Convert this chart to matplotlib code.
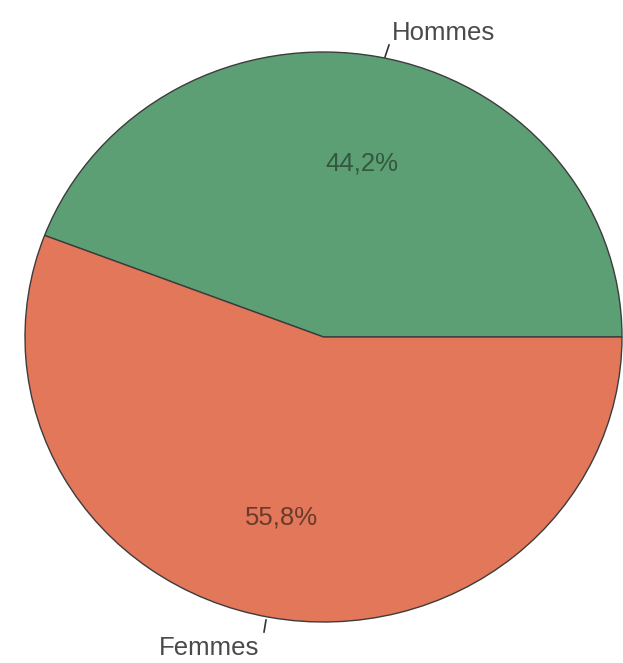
import matplotlib
matplotlib.use("Agg")
import matplotlib.pyplot as plt

categories = ["Hommes", "Femmes"]
shares = [44.2, 55.8]
pct_labels = ["44,2%", "55,8%"]
colors = ["#5c9f74", "#e2775a"]
pct_colors = ["#34583f", "#6a3a2c"]

W, H = 623, 663
fig = plt.figure(figsize=(W / 100, H / 100), dpi=100)
fig.patch.set_facecolor("white")

# ellipse spans x 25..622, y 52..622 (pixels from top)
ax = fig.add_axes([25 / W, (H - 622) / H, 597 / W, 570 / H])
wedges, _ = ax.pie(shares, colors=colors, startangle=0, counterclock=True,
                   radius=1.0,
                   wedgeprops=dict(edgecolor="#3c3c3c", linewidth=1.0))
ax.set_aspect("auto")
ax.set_xlim(-1, 1)
ax.set_ylim(-1, 1)
ax.axis("off")

font = ["Liberation Sans", "DejaVu Sans"]


def px(x, y):
    return x / W, 1 - y / H


# percentage labels inside the slices
for lbl, col, (x, y) in zip(pct_labels, pct_colors, [(362, 164), (281, 518)]):
    fig.text(*px(x, y), lbl, ha="center", va="center", fontsize=18.5,
             color=col, family=font)

# category labels with short leader ticks
fig.text(*px(443, 33), categories[0], ha="center", va="center",
         fontsize=18.5, color="#4a4a4a", family=font)
fig.add_artist(plt.Line2D([385 / W, 389 / W], [1 - 57 / H, 1 - 45 / H],
                          color="#333333", lw=1.2))
fig.text(*px(209, 648), categories[1], ha="center", va="center",
         fontsize=18.5, color="#4a4a4a", family=font)
fig.add_artist(plt.Line2D([266 / W, 264 / W], [1 - 620 / H, 1 - 632 / H],
                          color="#333333", lw=1.2))

fig.savefig("out.png", dpi=100, facecolor="white")
